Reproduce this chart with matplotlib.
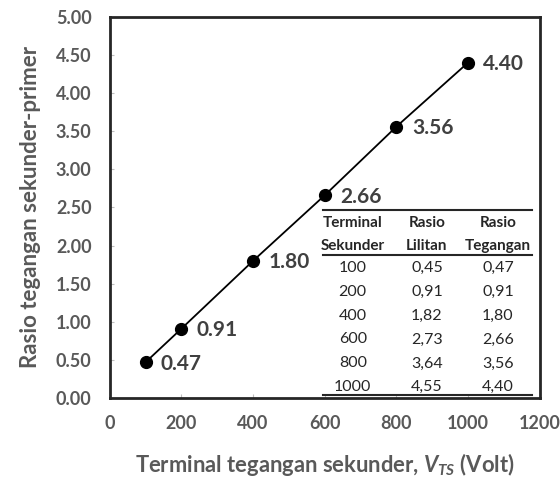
import matplotlib
matplotlib.use('Agg')
import matplotlib.pyplot as plt

# data
terminal = [100, 200, 400, 600, 800, 1000]
rasio_tegangan = [0.47, 0.91, 1.80, 2.66, 3.56, 4.40]
rasio_lilitan = [0.45, 0.91, 1.82, 2.73, 3.64, 4.55]
tabel_header = [('Terminal', 'Sekunder'), ('Rasio', 'Lilitan'), ('Rasio', 'Tegangan')]

plt.rcParams['font.family'] = ['Lato', 'DejaVu Sans']
plt.rcParams['mathtext.fontset'] = 'custom'
plt.rcParams['mathtext.it'] = 'Lato:italic:bold'
plt.rcParams['mathtext.rm'] = 'Lato:bold'

abu = '#595959'
fig = plt.figure(figsize=(5.6, 4.79), dpi=100)
ax = fig.add_axes([0.196, 0.169, 0.768, 0.796])

ax.plot(terminal, rasio_tegangan, color='black', lw=1.3, marker='o', ms=8.5, zorder=3)
for x, y in zip(terminal, rasio_tegangan):
    ax.annotate('%.2f' % y, (x, y), xytext=(11, -1), textcoords='offset points',
                ha='left', va='center', fontsize=15, fontweight='bold', color='#404040')

ax.set_xlim(0, 1200)
ax.set_ylim(0, 5)
ax.set_xticks(range(0, 1201, 200))
ax.set_yticks([i * 0.5 for i in range(11)])
ax.set_yticklabels(['%.2f' % (i * 0.5) for i in range(11)])
ax.tick_params(direction='in', length=3, color='#bfbfbf', labelsize=13, labelcolor=abu)
ax.tick_params(axis='y', pad=13)
ax.tick_params(axis='x', pad=12)
for lab in ax.get_xticklabels() + ax.get_yticklabels():
    lab.set_fontweight('bold')
for s in ax.spines.values():
    s.set_linewidth(2)
    s.set_color('#262626')

ax.set_xlabel('Terminal tegangan sekunder, $V_{TS}$ (Volt)', fontsize=15.8,
              fontweight='bold', color=abu, labelpad=14)
ax.set_ylabel('Rasio tegangan sekunder-primer', fontsize=16,
              fontweight='bold', color=abu, labelpad=11)

# tabel
kolom_x = [678, 885, 1083]
ax.plot([594, 1178], [2.47, 2.47], color='#262626', lw=1.5)
ax.plot([594, 1178], [1.88, 1.88], color='#262626', lw=1.5)
ax.plot([594, 1178], [0.04, 0.04], color='#262626', lw=1.5)
for cx, (h1, h2) in zip(kolom_x, tabel_header):
    ax.text(cx, 2.30, h1, ha='center', va='center', fontsize=11, fontweight='bold', color='#262626')
    ax.text(cx, 1.99, h2, ha='center', va='center', fontsize=11, fontweight='bold', color='#262626')
for i in range(len(terminal)):
    y = 1.71 - i * 0.314
    baris = [str(terminal[i]), ('%.2f' % rasio_lilitan[i]).replace('.', ','),
             ('%.2f' % rasio_tegangan[i]).replace('.', ',')]
    for cx, t in zip(kolom_x, baris):
        ax.text(cx, y, t, ha='center', va='center', fontsize=11.5, color='#262626')

fig.savefig('out.png', dpi=100)
